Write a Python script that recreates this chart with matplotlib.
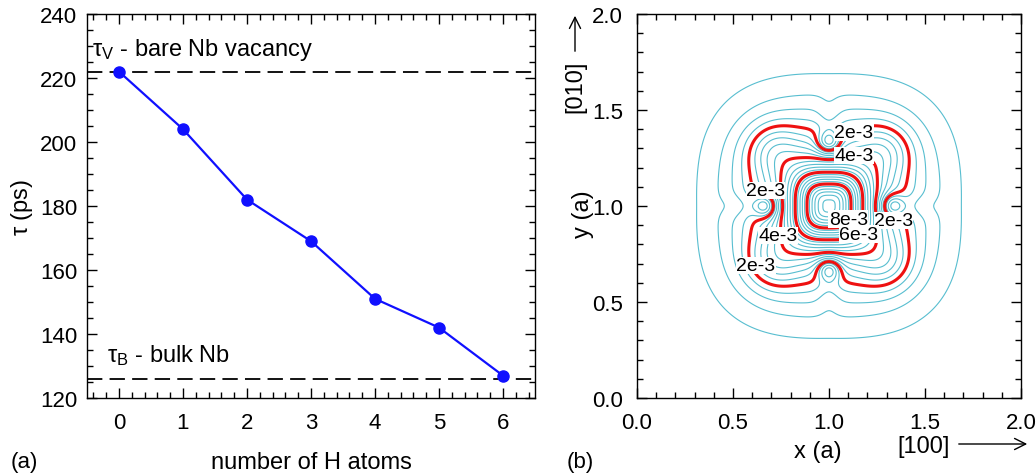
import numpy as np
import matplotlib.pyplot as plt
from matplotlib.ticker import MultipleLocator

plt.rcParams['font.family'] = ['Liberation Sans', 'DejaVu Sans']
plt.rcParams['font.size'] = 16
plt.rcParams['mathtext.fontset'] = 'custom'
plt.rcParams['mathtext.rm'] = 'Liberation Sans'
plt.rcParams['mathtext.it'] = 'Liberation Sans'

# (a) positron lifetime vs number of H atoms in the vacancy
n_h = [0, 1, 2, 3, 4, 5, 6]
tau_ps = [222, 204, 182, 169, 151, 142, 127]
tau_vacancy = 222
tau_bulk = 126

# (b) positron density around the vacancy, model field parameters
center = (1.0, 1.0)
core_amp, core_width = 6.0e-3, 0.183
halo_amp, halo_width, halo_shape = 4.2e-3, 0.45, 2.8
lobe_amp, lobe_width, lobe_offset = 1.1e-3, 0.14, 0.29
dip_amp, dip_offset, dip_radial, dip_side = 2.0e-3, 0.33, 0.06, 0.06
notch_amp, notch_offset, notch_radial, notch_side = 0.35e-3, 0.46, 0.10, 0.06
minor_levels = np.arange(0.4e-3, 10.8e-3, 0.4e-3)
major_levels = [2e-3, 4e-3, 6e-3, 8e-3]
label_levels = [2e-3, 4e-3, 2e-3, 8e-3, 2e-3, 6e-3, 4e-3, 2e-3]
label_x = [1.13, 1.13, 0.67, 1.10, 1.335, 1.155, 0.735, 0.62]
label_y = [1.385, 1.262, 1.08, 0.932, 0.924, 0.854, 0.845, 0.69]

fig = plt.figure(figsize=(10.36, 4.77), dpi=100)
ax1 = fig.add_axes([87 / 1036, 78 / 477, 448 / 1036, 384 / 477])
ax2 = fig.add_axes([637 / 1036, 78 / 477, 384 / 1036, 384 / 477])

# ---- panel (a)
ax1.axhline(tau_vacancy, color='black', lw=1.3, dashes=(8.5, 4))
ax1.axhline(tau_bulk, color='black', lw=1.3, dashes=(8.5, 4))
ax1.plot(n_h, tau_ps, color='#1010ff', lw=1.6, marker='o', ms=8, zorder=3)
ax1.set_xlim(-0.5, 6.5)
ax1.set_ylim(120, 240)
ax1.xaxis.set_major_locator(MultipleLocator(1))
ax1.xaxis.set_minor_locator(MultipleLocator(0.2))
ax1.yaxis.set_major_locator(MultipleLocator(20))
ax1.yaxis.set_minor_locator(MultipleLocator(5))
ax1.set_xlabel('number of H atoms', fontsize=17, va='center')
ax1.xaxis.set_label_coords(0.5, -0.167)
ax1.set_ylabel(r'$\tau$ (ps)', fontsize=17, va='center')
ax1.yaxis.set_label_coords(-0.145, 0.5)
ax1.text(-0.42, 229, r'$\tau_\mathrm{V}$ - bare Nb vacancy', fontsize=17, va='center')
ax1.text(-0.18, 133.5, r'$\tau_\mathrm{B}$ - bulk Nb', fontsize=17, va='center')

# ---- panel (b)
x = np.linspace(0, 2, 601)
X, Y = np.meshgrid(x, x)
dx, dy = X - center[0], Y - center[1]
rho_core = (np.abs(dx) ** 3 + np.abs(dy) ** 3) ** (1 / 3)
rho_halo = (np.abs(dx) ** halo_shape + np.abs(dy) ** halo_shape) ** (1 / halo_shape)
field = core_amp * np.exp(-(rho_core / core_width) ** 2)
field += halo_amp * np.exp(-(rho_halo / halo_width) ** 2)
for sx in (-1, 1):
    for sy in (-1, 1):
        field += lobe_amp * np.exp(-((dx - sx * lobe_offset) ** 2 + (dy - sy * lobe_offset) ** 2) / lobe_width ** 2)
# pockets and shallow grooves on the <100> axes
for amp, off, rad, side in [(dip_amp, dip_offset, dip_radial, dip_side),
                            (notch_amp, notch_offset, notch_radial, notch_side)]:
    for s in (-1, 1):
        field -= amp * np.exp(-((dx - s * off) / rad) ** 2 - (dy / side) ** 2)
        field -= amp * np.exp(-((dy - s * off) / rad) ** 2 - (dx / side) ** 2)

ax2.contour(X, Y, field, levels=minor_levels, colors='#58bed0', linewidths=0.8)
ax2.contour(X, Y, field, levels=major_levels, colors='#ee1111', linewidths=2.2)
for lev, lx, ly in zip(label_levels, label_x, label_y):
    ax2.text(lx, ly, f'{lev * 1e3:.0f}e-3', ha='center', va='center', fontsize=14,
             bbox=dict(facecolor='white', edgecolor='none', pad=0.2), zorder=5)

ax2.set_xlim(0, 2)
ax2.set_ylim(0, 2)
ax2.xaxis.set_major_locator(MultipleLocator(0.5))
ax2.xaxis.set_minor_locator(MultipleLocator(0.1))
ax2.yaxis.set_major_locator(MultipleLocator(0.5))
ax2.yaxis.set_minor_locator(MultipleLocator(0.1))
ax2.xaxis.set_major_formatter(lambda v, p: f'{v:.1f}')
ax2.yaxis.set_major_formatter(lambda v, p: f'{v:.1f}')
ax2.set_xlabel('x (a)', fontsize=17, va='center')
ax2.xaxis.set_label_coords(0.471, -0.138)
ax2.set_ylabel('y (a)', fontsize=17, va='center')
ax2.yaxis.set_label_coords(-0.141, 0.482)

for ax in (ax1, ax2):
    ax.tick_params(which='both', direction='in', top=True, right=True, labelsize=16)
    ax.tick_params(which='major', length=7, width=1.0)
    ax.tick_params(which='minor', length=4, width=1.0)
    ax.tick_params(axis='x', pad=10)
    for s in ax.spines.values():
        s.set_linewidth(1.0)
ax1.tick_params(axis='y', pad=7)
ax2.tick_params(axis='y', pad=10)

# panel tags and crystal direction arrows
fig.text(24 / 1036, 1 - 463 / 477, '(a)', fontsize=16, va='center', ha='center')
fig.text(580 / 1036, 1 - 463 / 477, '(b)', fontsize=16, va='center', ha='center')
fig.text(924 / 1036, 1 - 447 / 477, '[100]', fontsize=17, va='center', ha='center')
fig.text(575 / 1036, 1 - 87 / 477, '[010]', fontsize=17, va='center', ha='center', rotation=90)
fig.add_artist(plt.Annotation('', xy=(1030 / 1036, 1 - 445 / 477), xytext=(956 / 1036, 1 - 445 / 477),
                              xycoords='figure fraction',
                              arrowprops=dict(arrowstyle='->', lw=1.0, color='black', mutation_scale=20)))
fig.add_artist(plt.Annotation('', xy=(575 / 1036, 1 - 14 / 477), xytext=(575 / 1036, 1 - 55 / 477),
                              xycoords='figure fraction',
                              arrowprops=dict(arrowstyle='->', lw=1.0, color='black', mutation_scale=20)))

fig.savefig('out.png', dpi=100, facecolor='white')
